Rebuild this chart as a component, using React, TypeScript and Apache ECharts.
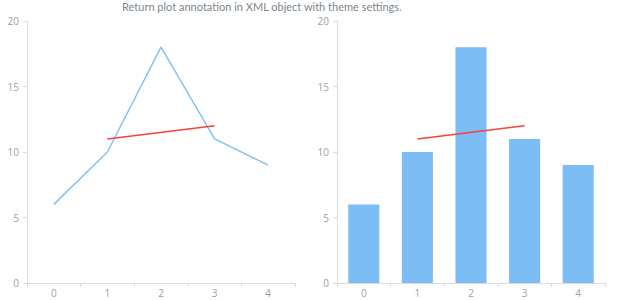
import React, { useEffect, useRef } from "react";
import * as echarts from "echarts";

const categories = ["0", "1", "2", "3", "4"];
const values = [6, 10, 18, 11, 9];
const annotationPoints: [number, number][] = [
  [1, 11],
  [3, 12],
];
const yTicks = { min: 0, max: 20, interval: 5 };
const titleText = "Return plot annotation in XML object with theme settings.";

export default function App() {
  const ref = useRef<HTMLDivElement>(null);
  useEffect(() => {
    if (!ref.current) return;
    const chart = echarts.init(ref.current, undefined, { renderer: "svg" });
    const axisLabel = { color: "#9aa0a6", fontSize: 10, fontFamily: "Open Sans" };
    const axisLine = { show: true, lineStyle: { color: "#dcdcdc" } };
    const axisTick = { show: true, length: 4, lineStyle: { color: "#dcdcdc" } };
    const xAxis = (gi: number) => ({
      type: "category",
      gridIndex: gi,
      data: categories,
      boundaryGap: true,
      axisLine,
      axisTick: { ...axisTick, alignWithLabel: false },
      axisLabel: { ...axisLabel, margin: 5 },
      splitLine: { show: false },
    });
    const yAxis = (gi: number) => ({
      type: "value",
      gridIndex: gi,
      ...yTicks,
      axisLine,
      axisTick,
      axisLabel: { ...axisLabel, margin: 8 },
      splitLine: { show: false },
    });
    chart.setOption({
      animation: false,
      backgroundColor: "#ffffff",
      title: {
        text: titleText,
        left: 122,
        top: 0,
        padding: [1, 0, 0, 0],
        textStyle: {
          color: "#7c868e",
          fontSize: 11,
          fontWeight: "normal",
          fontFamily: "Lato",
        },
      },
      grid: [
        { left: 27, right: 325, top: 21, bottom: 17, containLabel: false },
        { left: 337, right: 15, top: 21, bottom: 17, containLabel: false },
      ],
      xAxis: [xAxis(0), xAxis(1)],
      yAxis: [yAxis(0), yAxis(1)],
      series: [
        {
          type: "line",
          xAxisIndex: 0,
          yAxisIndex: 0,
          data: values,
          symbol: "none",
          lineStyle: { color: "#82c3f7", width: 1.5 },
        },
        {
          type: "line",
          xAxisIndex: 0,
          yAxisIndex: 0,
          data: annotationPoints,
          symbol: "none",
          lineStyle: { color: "#f44336", width: 1.5 },
          z: 5,
        },
        {
          type: "bar",
          xAxisIndex: 1,
          yAxisIndex: 1,
          data: values,
          barWidth: "58%",
          itemStyle: { color: "#7dbdf5" },
        },
        {
          type: "line",
          xAxisIndex: 1,
          yAxisIndex: 1,
          data: annotationPoints,
          symbol: "none",
          lineStyle: { color: "#f44336", width: 1.5 },
          z: 5,
        },
      ],
    });
    return () => chart.dispose();
  }, []);
  return (
    <div
      ref={ref}
      style={{ position: "fixed", left: 0, top: 0, width: 620, height: 300 }}
    />
  );
}
